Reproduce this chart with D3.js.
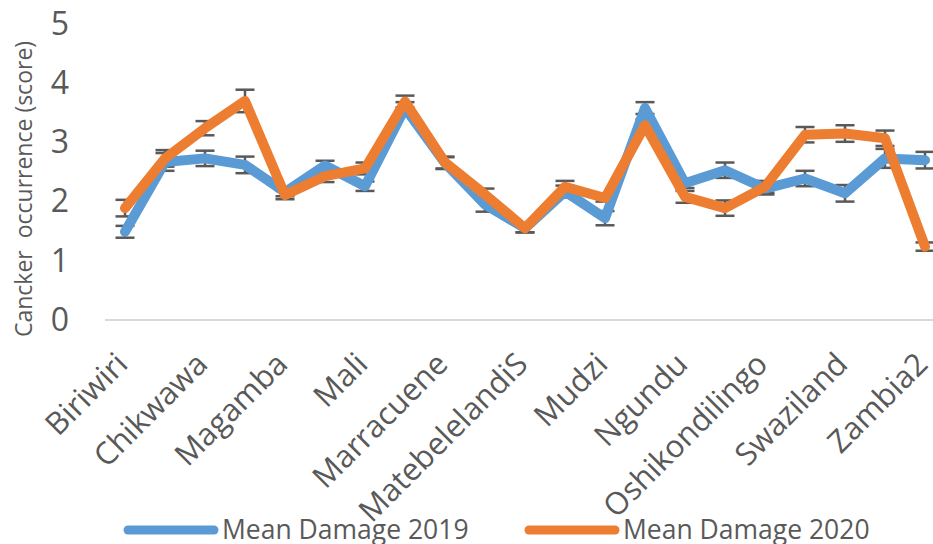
<!DOCTYPE html>
<html>
<head>
<meta charset="utf-8">
<script src="https://cdn.jsdelivr.net/npm/d3@7"></script>
<style>
  body { margin: 0; background: #fff; }
  svg { display: block; }
  text { font-family: "Open Sans", sans-serif; fill: #595959; }
</style>
</head>
<body>
<svg id="chart" width="933" height="544"></svg>
<script>
// 21 categories; only every other one carries a visible label on the axis
const tickLabels = ["Biriwiri", "Chikwawa", "Magamba", "Mali", "Marracuene",
  "MatebelelandiS", "Mudzi", "Ngundu", "Oshikondilingo", "Swaziland", "Zambia2"];
const categoryIndex = d3.range(21);

const mean2019 = [1.49, 2.67, 2.73, 2.62, 2.16, 2.61, 2.26, 3.58, 2.65, 1.95, 1.55,
  2.17, 1.72, 3.58, 2.31, 2.53, 2.22, 2.39, 2.14, 2.73, 2.70];
const err2019 = [0.10, 0.15, 0.13, 0.14, 0.07, 0.08, 0.08, 0.10, 0.10, 0.12, 0.07,
  0.10, 0.12, 0.10, 0.08, 0.13, 0.10, 0.13, 0.14, 0.16, 0.14];
const mean2020 = [1.89, 2.73, 3.24, 3.70, 2.11, 2.43, 2.56, 3.69, 2.66, 2.12, 1.55,
  2.25, 2.06, 3.29, 2.08, 1.89, 2.25, 3.13, 3.15, 3.07, 1.24];
const err2020 = [0.14, 0.14, 0.12, 0.19, 0.07, 0.10, 0.10, 0.10, 0.10, 0.10, 0.07,
  0.10, 0.06, 0.10, 0.10, 0.13, 0.10, 0.13, 0.14, 0.13, 0.07];
const seriesNames = ["Mean Damage 2019", "Mean Damage 2020"];
const seriesColors = ["#5B9BD5", "#ED7D31"];
const yTicks = [0, 1, 2, 3, 4, 5];

const svg = d3.select("#chart");
const x = d3.scalePoint().domain(categoryIndex).range([125, 925]);
const y = d3.scaleLinear().domain([0, 5]).range([320, 24]);

// baseline
svg.append("line").attr("x1", 105).attr("x2", 933).attr("y1", y(0)).attr("y2", y(0))
  .attr("stroke", "#D9D9D9").attr("stroke-width", 2);

// y axis (labels only)
const yAxis = d3.axisLeft(y).tickValues(yTicks).tickFormat(d3.format("d"))
  .tickSize(0).tickPadding(0);
const yg = svg.append("g").attr("transform", "translate(69,0)").call(yAxis);
yg.select(".domain").remove();
yg.selectAll("text").style("font-size", "32px").attr("fill", "#595959")
  .style("font-family", "'Open Sans', sans-serif");

// y title
svg.append("text").attr("transform", "translate(32,189) rotate(-90)")
  .attr("text-anchor", "middle").style("font-size", "23px")
  .attr("xml:space", "preserve")
  .text("Cancker  occurrence (score)");

// x axis labels
const xAxis = d3.axisBottom(x).tickValues(categoryIndex.filter(i => i % 2 === 0))
  .tickFormat(i => tickLabels[i / 2]).tickSize(0);
const xg = svg.append("g").attr("transform", `translate(0,${y(0)})`).call(xAxis);
xg.select(".domain").remove();
xg.selectAll("text").style("font-size", "31px").attr("fill", "#595959")
  .style("font-family", "'Open Sans', sans-serif")
  .attr("text-anchor", "end").attr("dy", "0").attr("y", 0)
  .attr("transform", "translate(4,46) rotate(-45)");

// error bars
const errGroup = svg.append("g");
[[mean2019, err2019], [mean2020, err2020]].forEach(([m, e]) => {
  categoryIndex.forEach(i => {
    const cx = x(i), top = y(m[i] + e[i]), bot = y(m[i] - e[i]);
    errGroup.append("line").attr("x1", cx).attr("x2", cx).attr("y1", top).attr("y2", bot)
      .attr("stroke", "#595959").attr("stroke-width", 2.5);
    [top, bot].forEach(yy => errGroup.append("line")
      .attr("x1", cx - 9.5).attr("x2", cx + 9.5).attr("y1", yy).attr("y2", yy)
      .attr("stroke", "#595959").attr("stroke-width", 2.5));
  });
});

// lines
const line = d3.line().x((d, i) => x(i)).y(d => y(d));
[mean2019, mean2020].forEach((m, k) => {
  svg.append("path").datum(m).attr("d", line).attr("fill", "none")
    .attr("stroke", seriesColors[k]).attr("stroke-width", 10)
    .attr("stroke-linejoin", "round").attr("stroke-linecap", "round");
});

// legend
const legendX = [128, 529];
seriesNames.forEach((name, k) => {
  const g = svg.append("g").attr("transform", `translate(${legendX[k]},530)`);
  g.append("line").attr("x1", 0).attr("x2", 86).attr("y1", 0).attr("y2", 0)
    .attr("stroke", seriesColors[k]).attr("stroke-width", 9).attr("stroke-linecap", "round");
  g.append("text").attr("x", 94).attr("y", 9).style("font-size", "26.5px").text(name);
});
</script>
</body>
</html>
